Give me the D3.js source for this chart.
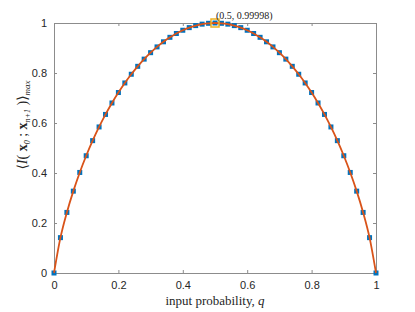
<!DOCTYPE html>
<html>
<head>
<meta charset="utf-8">
<script src="https://cdn.jsdelivr.net/npm/d3@7"></script>
<style>
  body { margin: 0; background: #fff; }
  .tick text { font-family: "Liberation Sans", Arial, sans-serif; font-size: 11px; fill: #262626; }
  .axis path, .axis line { stroke: #8c8c8c; }
</style>
</head>
<body>
<div id="chart"></div>
<script>
var qValues = [0, 0.02, 0.04, 0.06, 0.08, 0.10, 0.12, 0.14, 0.16, 0.18, 0.20,
  0.22, 0.24, 0.26, 0.28, 0.30, 0.32, 0.34, 0.36, 0.38, 0.40, 0.42, 0.44, 0.46, 0.48, 0.50,
  0.52, 0.54, 0.56, 0.58, 0.60, 0.62, 0.64, 0.66, 0.68, 0.70, 0.72, 0.74, 0.76, 0.78, 0.80,
  0.82, 0.84, 0.86, 0.88, 0.90, 0.92, 0.94, 0.96, 0.98, 1.00];
var infoValues = [0, 0.1414, 0.2423, 0.3274, 0.4022, 0.4690, 0.5294, 0.5842, 0.6343, 0.6801, 0.7219,
  0.7602, 0.7950, 0.8267, 0.8555, 0.8813, 0.9044, 0.9248, 0.9427, 0.9580, 0.9710, 0.9815, 0.9896, 0.9954, 0.9988, 0.99998,
  0.9988, 0.9954, 0.9896, 0.9815, 0.9710, 0.9580, 0.9427, 0.9248, 0.9044, 0.8813, 0.8555, 0.8267, 0.7950, 0.7602, 0.7219,
  0.6801, 0.6343, 0.5842, 0.5294, 0.4690, 0.4022, 0.3274, 0.2423, 0.1414, 0];
var xTicks = [0, 0.2, 0.4, 0.6, 0.8, 1];
var yTicks = [0, 0.2, 0.4, 0.6, 0.8, 1];
var tipPoint = {q: 0.5, v: 0.99998};

var W = 415, H = 312;
var margin = {top: 23, right: 39, bottom: 39, left: 54};

var data = qValues.map(function(q, i) { return {q: q, v: infoValues[i]}; });

var x = d3.scaleLinear().domain([0, 1]).range([margin.left, W - margin.right]);
var y = d3.scaleLinear().domain([0, 1]).range([H - margin.bottom, margin.top]);

var svg = d3.select("#chart").append("svg")
    .attr("width", W)
    .attr("height", H);

// box axes
svg.append("g")
    .attr("class", "axis")
    .attr("transform", "translate(0," + y(0) + ")")
    .call(d3.axisBottom(x).tickValues(xTicks).tickSizeInner(-3).tickSizeOuter(0).tickPadding(8)
          .tickFormat(function(d) { return d3.format("")(d); }));
svg.append("g")
    .attr("class", "axis")
    .attr("transform", "translate(0," + y(1) + ")")
    .call(d3.axisTop(x).tickValues(xTicks).tickSizeInner(-3).tickSizeOuter(0).tickFormat(""));
svg.append("g")
    .attr("class", "axis")
    .attr("transform", "translate(" + x(0) + ",0)")
    .call(d3.axisLeft(y).tickValues(yTicks).tickSizeInner(-3).tickSizeOuter(0).tickPadding(7)
          .tickFormat(function(d) { return d3.format("")(d); }));
svg.append("g")
    .attr("class", "axis")
    .attr("transform", "translate(" + x(1) + ",0)")
    .call(d3.axisRight(y).tickValues(yTicks).tickSizeInner(-3).tickSizeOuter(0).tickFormat(""));
svg.selectAll(".tick text").attr("font-size", null);

// markers
svg.append("g").selectAll("rect")
    .data(data)
    .enter().append("rect")
    .attr("x", function(d) { return x(d.q) - 2.5; })
    .attr("y", function(d) { return y(d.v) - 2.5; })
    .attr("width", 5)
    .attr("height", 5)
    .attr("fill", "#0072BD");

// curve
svg.append("path")
    .datum(data)
    .attr("fill", "none")
    .attr("stroke", "#D95319")
    .attr("stroke-width", 1.8)
    .attr("d", d3.line()
          .curve(d3.curveMonotoneX)
          .x(function(d) { return x(d.q); })
          .y(function(d) { return y(d.v); }));

// data tip
svg.append("rect")
    .attr("x", x(tipPoint.q) - 4)
    .attr("y", y(tipPoint.v) - 4)
    .attr("width", 8)
    .attr("height", 8)
    .attr("fill", "none")
    .attr("stroke", "#EDB120")
    .attr("stroke-width", 1.5);
svg.append("text")
    .attr("x", x(tipPoint.q) + 1)
    .attr("y", y(tipPoint.v) - 4)
    .attr("font-family", "'Liberation Serif', 'DejaVu Serif', serif")
    .attr("font-size", 10)
    .attr("fill", "#222")
    .text("(" + tipPoint.q + ", " + tipPoint.v + ")");

// x label
var xl = svg.append("text")
    .attr("x", (x(0) + x(1)) / 2)
    .attr("y", 305)
    .attr("text-anchor", "middle")
    .attr("font-family", "'Liberation Serif', 'DejaVu Serif', serif")
    .attr("font-size", 13)
    .attr("fill", "#262626");
xl.append("tspan").text("input probability, ");
xl.append("tspan").attr("font-style", "italic").text("q");

// y label
var yl = svg.append("text")
    .attr("transform", "translate(27,125) rotate(-90)")
    .attr("text-anchor", "middle")
    .attr("font-family", "'Liberation Serif', 'DejaVu Serif', serif")
    .attr("font-size", 14)
    .attr("fill", "#262626");
yl.append("tspan").text("\u27E8");
yl.append("tspan").attr("font-style", "italic").text("I");
yl.append("tspan").text("( ");
yl.append("tspan").attr("font-weight", "bold").text("x");
yl.append("tspan").attr("font-size", 8).attr("font-style", "italic").attr("dy", 3).text("0");
yl.append("tspan").attr("dy", -3).text(" ; ");
yl.append("tspan").attr("font-weight", "bold").text("x");
yl.append("tspan").attr("font-size", 8).attr("font-style", "italic").attr("dy", 3).text("n+1");
yl.append("tspan").attr("dy", -3).text(" )\u27E9");
yl.append("tspan").attr("font-size", 9).attr("font-style", "italic").attr("dy", 3).text("max");
</script>
</body>
</html>
